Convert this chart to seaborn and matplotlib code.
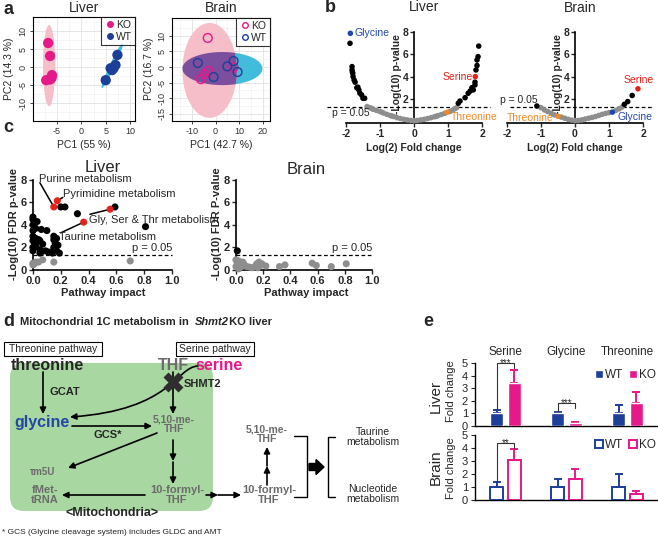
import numpy as np
import pandas as pd
import matplotlib
matplotlib.use("Agg")
import matplotlib.pyplot as plt
import seaborn as sns
from matplotlib.lines import Line2D
from matplotlib.patches import Polygon, FancyBboxPatch, Rectangle, FancyArrowPatch, FancyArrow, Patch
from matplotlib.path import Path
from matplotlib.ticker import MultipleLocator, FormatStrFormatter

sns.set_style("white")
plt.rcParams["font.family"] = ["Liberation Sans", "DejaVu Sans"]
plt.rcParams["axes.unicode_minus"] = False

W, H = 658, 538
KO_PINK = "#E6198A"
WT_BLUE = "#1E3F99"
GREY = "#8E8E8E"
SER_RED = "#E2231A"
GLY_BLUE = "#2347A6"
THR_ORANGE = "#F08A24"
TXT_GREY = "#6B6B6B"

# ---- a: PCA scores ----
liver_ko_pc1 = [-6.8, -6.4, -6.0, -6.1, -7.2, -6.4]
liver_ko_pc2 = [6.7, 3.1, -2.2, -3.0, -3.6, -3.4]
liver_wt_pc1 = [5.0, 6.0, 6.6, 7.0, 7.4, 6.3]
liver_wt_pc2 = [-3.6, -0.3, -0.3, 0.6, 3.4, -0.8]
brain_ko_pc1 = [-3.3, -6.2, -4.6, -3.0, 7.6]
brain_ko_pc2 = [9.3, -3.9, -2.3, -1.3, -0.1]
brain_wt_pc1 = [-7.5, -0.8, 5.0, 7.6, 9.3]
brain_wt_pc2 = [1.3, -3.2, 0.2, 1.9, -1.6]

# ---- b: volcano ----
liver_sig_fc = [-1.88, -1.82, -1.82, -1.81, -1.80, -1.79, -1.76, -1.73, -1.68, -1.65, -1.62, -1.59, -1.54, -1.50, -1.45,
                1.30, 1.35, 1.50, 1.59, 1.65, 1.70, 1.74, 1.79, 1.79, 1.82, 1.85, 1.85, 1.88, 1.90]
liver_sig_lp = [7.0, 4.9, 4.6, 4.4, 4.3, 4.0, 3.7, 3.5, 3.0, 3.05, 2.8, 2.5, 2.35, 2.05, 2.05,
                1.6, 1.8, 2.1, 2.5, 2.7, 3.0, 2.8, 3.25, 3.5, 4.6, 5.0, 5.5, 5.8, 6.75]
liver_ns_fc = [-1.38, -1.3, -1.25, -1.2, -1.1, -1.0, -0.95, -0.9, -0.8, -0.7, -0.65, -0.6, -0.5, -0.4, -0.3, -0.2, -0.1,
               0.0, 0.1, 0.2, 0.3, 0.4, 0.5, 0.6, 0.65, 0.7, 0.8, 0.9, 1.05, 1.12, 1.2, 1.25]
liver_ns_lp = [1.3, 1.2, 1.15, 1.05, 0.95, 0.85, 0.8, 0.72, 0.6, 0.5, 0.45, 0.4, 0.3, 0.22, 0.15, 0.1, 0.05,
               0.02, 0.05, 0.1, 0.15, 0.22, 0.3, 0.38, 0.42, 0.48, 0.58, 0.68, 0.85, 0.95, 1.1, 1.2]
liver_hits = ["Glycine", "Serine", "Threonine"]
liver_hit_fc = [-1.87, 1.80, 0.97]
liver_hit_lp = [7.9, 4.0, 0.78]

brain_sig_fc = [-1.12, 1.45, 1.55, 1.68]
brain_sig_lp = [1.35, 1.5, 1.75, 2.3]
brain_ns_fc = [-1.0, -0.9, -0.8, -0.7, -0.6, -0.4, -0.3, -0.2, -0.1, 0.0, 0.1, 0.2, 0.3, 0.4, 0.5, 0.6,
               0.7, 0.8, 0.9, 1.0, 1.2, 1.3, 1.38]
brain_ns_lp = [1.2, 1.0, 0.85, 0.7, 0.55, 0.35, 0.25, 0.15, 0.08, 0.03, 0.05, 0.1, 0.18, 0.25, 0.32, 0.4,
               0.5, 0.6, 0.68, 0.75, 0.95, 1.1, 1.25]
brain_hits = ["Threonine", "Glycine", "Serine"]
brain_hit_fc = [-0.5, 1.1, 1.85]
brain_hit_lp = [0.42, 0.8, 2.9]

# ---- c: pathway impact ----
liver_path_sig_x = [0.0, 0.0, 0.01, 0.03, 0.0, 0.02, 0.0, 0.06, 0.10, 0.0, 0.02, 0.04, 0.0, 0.01, 0.03, 0.05, 0.07,
                    0.0, 0.02, 0.0, 0.05, 0.06, 0.09, 0.05, 0.11, 0.15, 0.15, 0.17, 0.16, 0.15, 0.18, 0.15, 0.17,
                    0.14, 0.19, 0.20, 0.23, 0.32, 0.59, 0.81]
liver_path_sig_y = [4.7, 4.5, 4.3, 4.3, 4.0, 3.7, 3.5, 3.6, 3.5, 3.0, 2.8, 2.7, 2.6, 2.4, 2.5, 2.6, 2.3,
                    2.0, 2.1, 1.7, 1.8, 1.6, 1.7, 1.5, 1.6, 3.0, 2.7, 2.8, 2.4, 2.0, 2.2, 1.8, 1.7,
                    1.5, 1.5, 5.6, 5.6, 5.0, 5.6, 3.85]
liver_path_ns_x = [0.0, 0.01, 0.02, 0.0, 0.04, 0.07, 0.15, 0.70]
liver_path_ns_y = [0.45, 0.55, 0.7, 0.6, 0.7, 0.9, 0.7, 0.8]
path_names = ["Purine metabolism", "Pyrimidine metabolism", "Gly, Ser & Thr metabolism", "Taurine metabolism"]
path_hit_x = [0.15, 0.175, 0.555, 0.365]
path_hit_y = [5.6, 6.15, 5.4, 4.25]

brain_path_ns_x = [0.0, 0.01, 0.02, 0.0, 0.03, 0.05, 0.04, 0.06, 0.08, 0.10, 0.15, 0.15, 0.16, 0.17, 0.18,
                   0.16, 0.19, 0.22, 0.32, 0.36, 0.56, 0.59, 0.70, 0.81, 0.02, 0.12]
brain_path_ns_y = [0.9, 0.6, 0.8, 0.3, 0.4, 0.7, 0.3, 0.5, 0.3, 0.25, 0.3, 0.5, 0.6, 0.7, 0.4,
                   0.2, 0.55, 0.35, 0.3, 0.45, 0.6, 0.4, 0.3, 0.55, 0.1, 0.2]
brain_path_sig_x = [0.01]
brain_path_sig_y = [1.7]

# ---- e: fold change ----
genes = ["Serine", "Glycine", "Threonine"]
liver_wt = [1.0, 1.0, 1.0]
liver_wt_err = [0.25, 0.1, 0.7]
liver_ko = [3.45, 0.25, 1.85]
liver_ko_err = [1.0, 0.05, 0.85]
brain_wt = [1.0, 1.0, 1.0]
brain_wt_err = [0.4, 0.6, 1.0]
brain_ko = [3.05, 1.65, 0.5]
brain_ko_err = [0.85, 0.7, 0.22]

fig = plt.figure(figsize=(W / 100, H / 100), dpi=100)


def px_axes(l, t, r, b):
    return fig.add_axes([l / W, 1 - b / H, (r - l) / W, (b - t) / H])


def ellipse(ax, c, a, b, color, z=1.5, clip=None):
    t = np.linspace(0, 2 * np.pi, 120)
    pts = np.column_stack([c[0] + a[0] * np.cos(t) + b[0] * np.sin(t),
                           c[1] + a[1] * np.cos(t) + b[1] * np.sin(t)])
    poly = Polygon(pts, closed=True, facecolor=color, edgecolor="none", zorder=z)
    ax.add_patch(poly)
    if clip is not None:
        poly.set_clip_path(clip)
    return poly


def pca_style(ax, xl, yl, xt, yt):
    ax.set_xlim(*xl)
    ax.set_ylim(*yl)
    ax.set_xticks(xt)
    ax.set_yticks(yt)
    ax.xaxis.set_minor_locator(MultipleLocator((xt[1] - xt[0]) / 2))
    ax.yaxis.set_minor_locator(MultipleLocator(2.5))
    ax.grid(True, which="major", color="#E6E6E6", lw=0.7)
    ax.grid(True, which="minor", color="#F0F0F0", lw=0.4)
    ax.set_axisbelow(True)
    for s in ax.spines.values():
        s.set_color("black")
        s.set_linewidth(0.8)
        s.set_visible(True)
    ax.tick_params(axis="both", labelsize=6.5, length=2.5, width=0.6, pad=1.5, labelcolor="#333333",
                   direction="out", left=True, bottom=True)
    ax.tick_params(axis="y", labelrotation=90)
    for lab in ax.get_yticklabels():
        lab.set_va("center")
    ax.set_xlabel("")
    ax.set_ylabel("")


# ===== a: Liver PCA =====
ax = px_axes(33, 17, 135, 121)
ellipse(ax, (-6.6, 0.45), (1.25, 0), (0, 11.25), "#F6BEC9")
ellipse(ax, (6.35, 0.45), (2.15, 6.25), (0.47, -0.29), "#41BCDA")
df = pd.DataFrame({"PC1": liver_ko_pc1 + liver_wt_pc1, "PC2": liver_ko_pc2 + liver_wt_pc2,
                   "group": ["KO"] * len(liver_ko_pc1) + ["WT"] * len(liver_wt_pc1)})
sns.scatterplot(data=df, x="PC1", y="PC2", hue="group", palette={"KO": KO_PINK, "WT": WT_BLUE},
                s=55, edgecolor="none", legend=False, ax=ax, zorder=3)
pca_style(ax, (-9.9, 11), (-14.9, 13.9), [-5, 0, 5, 10], [-10, -5, 0, 5, 10])
h = [Line2D([], [], marker="o", ls="", color=KO_PINK, ms=4, label="KO"),
     Line2D([], [], marker="o", ls="", color=WT_BLUE, ms=4, label="WT")]
leg = ax.legend(handles=h, loc="upper right", fontsize=7.5, frameon=True, fancybox=False, borderpad=0.3,
                handletextpad=0.1, labelspacing=0.15, handlelength=1.0, borderaxespad=0.0)
leg.get_frame().set_edgecolor("black")
leg.get_frame().set_linewidth(0.8)

# ===== a: Brain PCA =====
ax = px_axes(172, 18, 270, 121)
ellipse(ax, (2.9, -0.5), (16.9, 0), (0, 5.3), "#41BCDA")
pink = ellipse(ax, (-2.5, -1.1), (11.5, 0), (0, 15.2), "#F6BEC9", z=1.6)
ellipse(ax, (2.9, -0.5), (16.9, 0), (0, 5.3), "#7B4E9E", z=1.7, clip=pink)
df = pd.DataFrame({"PC1": brain_ko_pc1 + brain_wt_pc1, "PC2": brain_ko_pc2 + brain_wt_pc2,
                   "group": ["KO"] * len(brain_ko_pc1) + ["WT"] * len(brain_wt_pc1)})
sns.scatterplot(data=df, x="PC1", y="PC2", hue="group", palette={"KO": KO_PINK, "WT": WT_BLUE},
                s=40, legend=False, ax=ax, zorder=3)
coll = ax.collections[-1]
coll.set_edgecolors(coll.get_facecolors())
coll.set_facecolors("none")
coll.set_linewidths(1.0)
pca_style(ax, (-18.4, 23), (-17.3, 15.7), [-10, 0, 10, 20], [-15, -10, -5, 0, 5, 10])
ax.xaxis.set_minor_locator(MultipleLocator(5))
h = [Line2D([], [], marker="o", ls="", mfc="none", mec=KO_PINK, ms=4, label="KO"),
     Line2D([], [], marker="o", ls="", mfc="none", mec=WT_BLUE, ms=4, label="WT")]
leg = ax.legend(handles=h, loc="upper right", fontsize=7.5, frameon=True, fancybox=False, borderpad=0.3,
                handletextpad=0.1, labelspacing=0.15, handlelength=1.0, borderaxespad=0.0)
leg.get_frame().set_edgecolor("black")
leg.get_frame().set_linewidth(0.8)


# ===== b: volcano plots =====
def volcano(ax, sig_fc, sig_lp, ns_fc, ns_lp, hits, hit_fc, hit_lp, xl, dash):
    df = pd.DataFrame({"fc": ns_fc + sig_fc + hit_fc, "lp": ns_lp + sig_lp + hit_lp,
                       "kind": ["ns"] * len(ns_fc) + ["sig"] * len(sig_fc) + hits})
    pal = {"ns": GREY, "sig": "black", "Glycine": GLY_BLUE, "Serine": SER_RED, "Threonine": THR_ORANGE}
    sns.scatterplot(data=df, x="fc", y="lp", hue="kind", palette=pal, s=16, edgecolor="none",
                    legend=False, ax=ax, zorder=3, clip_on=False)
    ax.hlines(1.3, dash[0], dash[1], colors="black", linestyles=(0, (3, 2)), lw=0.9, zorder=2)
    ax.set_xlim(*xl)
    ax.set_ylim(-0.18, 8.56)
    ax.set_xticks([-2, -1, 0, 1, 2])
    ax.set_yticks([2, 4, 6, 8])
    ax.spines["top"].set_visible(False)
    ax.spines["right"].set_visible(False)
    ax.spines["left"].set_position(("data", 0))
    ax.spines["left"].set_bounds(0, 8)
    ax.spines["bottom"].set_bounds(-2, 2)
    for s in ("left", "bottom"):
        ax.spines[s].set_linewidth(1.2)
        ax.spines[s].set_color("black")
    ax.tick_params(axis="both", labelsize=7.5, length=3, width=1.0, pad=1, direction="out",
                   left=True, bottom=True)
    for lab in ax.get_xticklabels() + ax.get_yticklabels():
        lab.set_fontweight("bold")
    ax.set_xlabel("")
    ax.set_ylabel("-Log(10) p-value", fontsize=7.5, fontweight="bold", labelpad=0.5)
    ax.patch.set_alpha(0)


ax_bl = px_axes(318, 26, 492, 123)
volcano(ax_bl, liver_sig_fc, liver_sig_lp, liver_ns_fc, liver_ns_lp, liver_hits, liver_hit_fc, liver_hit_lp,
        (-2.82, 2.29), (-2.56, 2.24))
ax_bl.text(-1.76, 7.9, "Glycine", color=GLY_BLUE, fontsize=7.5, ha="left", va="center")
ax_bl.text(1.72, 4.0, "Serine", color=SER_RED, fontsize=7.5, ha="right", va="center")
ax_bl.text(1.08, 0.32, "Threonine", color=THR_ORANGE, fontsize=7.5, ha="left", va="center", clip_on=False)
ax_bl.text(-2.4, 0.72, "p = 0.05", fontsize=7.5, ha="left", va="center")

ax_bb = px_axes(480, 26, 656, 123)
volcano(ax_bb, brain_sig_fc, brain_sig_lp, brain_ns_fc, brain_ns_lp, brain_hits, brain_hit_fc, brain_hit_lp,
        (-2.79, 2.38), (-1.9, 2.3))
ax_bb.text(-0.62, 0.3, "Threonine", color=THR_ORANGE, fontsize=7.5, ha="right", va="center")
ax_bb.text(1.24, 0.35, "Glycine", color=GLY_BLUE, fontsize=7.5, ha="left", va="center")
ax_bb.text(1.87, 3.7, "Serine", color=SER_RED, fontsize=7.5, ha="center", va="center")
ax_bb.text(-2.2, 1.9, "p = 0.05", fontsize=7.5, ha="left", va="center")


# ===== c: pathway impact =====
def pathway(ax, sig_x, sig_y, ns_x, ns_y, hit_x, hit_y, xl, ylab):
    df = pd.DataFrame({"impact": ns_x + sig_x + hit_x, "fdr": ns_y + sig_y + hit_y,
                       "kind": ["ns"] * len(ns_x) + ["sig"] * len(sig_x) + ["hit"] * len(hit_x)})
    pal = {"ns": GREY, "sig": "black", "hit": SER_RED}
    ax.hlines(1.3, 0.0, 1.0, colors="black", linestyles=(0, (3, 2)), lw=0.9, zorder=2)
    sns.scatterplot(data=df, x="impact", y="fdr", hue="kind", palette=pal, s=26, edgecolor="none",
                    legend=False, ax=ax, zorder=3, clip_on=False)
    ax.set_xlim(*xl)
    ax.set_ylim(-0.27, 8.53)
    ax.set_xticks([0, 0.2, 0.4, 0.6, 0.8, 1.0])
    ax.xaxis.set_major_formatter(FormatStrFormatter("%.1f"))
    ax.set_yticks([0, 2, 4, 6, 8])
    ax.spines["top"].set_visible(False)
    ax.spines["right"].set_visible(False)
    ax.spines["left"].set_position(("data", 0))
    ax.spines["left"].set_bounds(0, 8)
    ax.spines["bottom"].set_position(("data", 0))
    ax.spines["bottom"].set_bounds(0, 1.0)
    for s in ("left", "bottom"):
        ax.spines[s].set_linewidth(1.2)
        ax.spines[s].set_color("black")
    ax.tick_params(axis="both", labelsize=8, length=3, width=1.0, pad=1.5, direction="out",
                   left=True, bottom=True)
    for lab in ax.get_xticklabels() + ax.get_yticklabels():
        lab.set_fontweight("bold")
    ax.set_xlabel("Pathway impact", fontsize=8, fontweight="bold", labelpad=1)
    ax.set_ylabel(ylab, fontsize=8, fontweight="bold", labelpad=1)
    ax.text(1.0, 1.55, "p = 0.05", fontsize=8, ha="right", va="bottom")
    ax.patch.set_alpha(0)


ax_cl = px_axes(26, 174, 180, 273)
pathway(ax_cl, liver_path_sig_x, liver_path_sig_y, liver_path_ns_x, liver_path_ns_y,
        path_hit_x, path_hit_y, (-0.05, 1.058), "-Log(10) FDR p-value")
lab_pos = [(0.04, 8.05), (0.215, 6.75), (0.405, 4.45), (0.185, 2.95)]
line_from = [(0.05, 7.75), (0.215, 6.45), (0.41, 4.95), (0.2, 3.3)]
for name, (tx, ty), (lx, ly), hx, hy in zip(path_names, lab_pos, line_from, path_hit_x, path_hit_y):
    ax_cl.text(tx, ty, name, fontsize=8, ha="left", va="center", zorder=5)
    ax_cl.plot([lx, hx], [ly, hy], color="black", lw=1.1, zorder=2)

ax_cb = px_axes(229, 174, 383, 273)
pathway(ax_cb, brain_path_sig_x, brain_path_sig_y, brain_path_ns_x, brain_path_ns_y,
        [], [], (-0.051, 1.08), "-Log(10) FDR P-value")


# ===== e: fold change bars =====
def foldbars(ax, wt, wt_err, ko, ko_err, filled):
    df = pd.DataFrame({"gene": genes * 2, "fc": wt + ko, "grp": ["WT"] * 3 + ["KO"] * 3})
    pal = {"WT": WT_BLUE, "KO": KO_PINK}
    if filled:
        sns.barplot(data=df, x="gene", y="fc", hue="grp", palette=pal, errorbar=None, width=0.56, gap=0.24,
                    legend=False, ax=ax, saturation=1, zorder=3)
    else:
        sns.barplot(data=df, x="gene", y="fc", hue="grp", palette=pal, errorbar=None, width=0.56, gap=0.24,
                    legend=False, ax=ax, saturation=1, fill=False, linewidth=1.4, zorder=3)
    bars = sorted(ax.patches, key=lambda p: p.get_x())
    errs = [v for pair in zip(wt_err, ko_err) for v in pair]
    cols = [WT_BLUE, KO_PINK] * 3
    for p, e, c in zip(bars, errs, cols):
        xc = p.get_x() + p.get_width() / 2
        ax.errorbar(xc, p.get_height(), yerr=[[0], [e]], fmt="none", ecolor=c, elinewidth=1.4,
                    capsize=3, capthick=1.4, zorder=2)
    ax.set_xlim(-0.5, 2.5)
    ax.set_ylim(0, 5)
    ax.set_yticks([0, 1, 2, 3, 4, 5])
    ax.set_xticks([])
    ax.spines["top"].set_visible(False)
    ax.spines["right"].set_visible(False)
    for s in ("left", "bottom"):
        ax.spines[s].set_linewidth(1.0)
        ax.spines[s].set_color("black")
    ax.tick_params(axis="y", labelsize=8, length=3, width=0.8, pad=2, direction="out", left=True)
    ax.set_xlabel("")
    ax.set_ylabel("")
    ax.patch.set_alpha(0)


def sig_bracket(ax, x0, x1, y_left, y_top, y_right, stars):
    ax.plot([x0, x0, x1, x1], [y_left, y_top, y_top, y_right], color="#333333", lw=0.8, clip_on=False)
    ax.text((x0 + x1) / 2, y_top - 0.22, stars, fontsize=7, ha="center", va="baseline", clip_on=False)


ax_el = px_axes(475, 363, 658, 426)
foldbars(ax_el, liver_wt, liver_wt_err, liver_ko, liver_ko_err, True)
sig_bracket(ax_el, -0.14, 0.14, 1.32, 5.0, 4.6, "***")
sig_bracket(ax_el, 0.86, 1.14, 1.17, 1.8, 1.4, "***")
hl = [Patch(facecolor=WT_BLUE, label="WT"), Patch(facecolor=KO_PINK, label="KO")]
ax_el.legend(handles=hl, loc="center", bbox_to_anchor=(0.82, 0.81), ncol=2, frameon=False, fontsize=8.5,
             handlelength=0.7, handleheight=0.7, handletextpad=0.15, columnspacing=0.5, borderpad=0)

ax_eb = px_axes(475, 435, 658, 500)
foldbars(ax_eb, brain_wt, brain_wt_err, brain_ko, brain_ko_err, False)
sig_bracket(ax_eb, -0.14, 0.14, 1.5, 4.4, 4.0, "**")
hb = [Patch(facecolor="white", edgecolor=WT_BLUE, lw=1.4, label="WT"),
      Patch(facecolor="white", edgecolor=KO_PINK, lw=1.4, label="KO")]
ax_eb.legend(handles=hb, loc="center", bbox_to_anchor=(0.82, 0.84), ncol=2, frameon=False, fontsize=8.5,
             handlelength=0.7, handleheight=0.7, handletextpad=0.15, columnspacing=0.5, borderpad=0)

# ===== overlay: titles, labels and pathway diagram =====
ov = fig.add_axes([0, 0, 1, 1])
ov.set_xlim(0, W)
ov.set_ylim(H, 0)
ov.axis("off")


def T(x, y, s, **kw):
    kw.setdefault("ha", "center")
    kw.setdefault("va", "center")
    ov.text(x, y, s, **kw)


# panel letters
for x, y, s in [(3, 9, "a"), (325, 8, "b"), (3, 128, "c"), (3, 321, "d"), (423, 321, "e")]:
    T(x, y, s, fontsize=13, fontweight="bold", ha="left")

# a titles / labels
T(84, 8, "Liver", fontsize=10)
T(221, 8, "Brain", fontsize=10)
T(84, 145, "PC1 (55 %)", fontsize=7.5)
T(221, 145, "PC1 (42.7 %)", fontsize=7.5)
T(9, 69, "PC2 (14.3 %)", fontsize=7.5, rotation=90)
T(149, 69, "PC2 (16.7 %)", fontsize=7.5, rotation=90)

# b titles / labels
T(424, 7, "Liver", fontsize=10)
T(580, 8, "Brain", fontsize=10)
T(414, 148, "Log(2) Fold change", fontsize=7.5, fontweight="bold")
T(575, 148, "Log(2) Fold change", fontsize=7.5, fontweight="bold")

# c titles
T(103, 167, "Liver", fontsize=12)
T(306, 170, "Brain", fontsize=12)

# e labels
for x, g in zip([505, 566, 627], genes):
    T(x, 352, g, fontsize=8.5)
T(436, 396, "Liver", fontsize=11, rotation=90)
T(451, 391, "Fold change", fontsize=8, rotation=90)
T(436, 467, "Brain", fontsize=11, rotation=90)
T(451, 468, "Fold change", fontsize=8, rotation=90)

# d diagram
ov.add_patch(FancyBboxPatch((10, 363), 203, 148, boxstyle="round,pad=0,rounding_size=14",
                            facecolor="#A9D7A1", edgecolor="none", zorder=0))
T(20, 322, "Mitochondrial 1C metabolism in ", fontsize=8, fontweight="bold", ha="left")
T(195, 322, "Shmt2", fontsize=8, fontweight="bold", fontstyle="italic", ha="left")
T(226, 322, " KO liver", fontsize=8, fontweight="bold", ha="left")
for (x0, x1), s in [((4, 102), "Threonine pathway"), ((176, 254), "Serine pathway")]:
    ov.add_patch(Rectangle((x0, 342), x1 - x0, 14, facecolor="white", edgecolor="black", lw=0.8))
    T((x0 + x1) / 2, 349.5, s, fontsize=7.5)

T(47, 365, "threonine", fontsize=11.5, fontweight="bold")
T(173, 365, "THF", fontsize=11.5, fontweight="bold", color=TXT_GREY)
T(219, 365, "serine", fontsize=11.5, fontweight="bold", color=KO_PINK)
T(184, 384, "SHMT2", fontsize=8, fontweight="bold", ha="left")
T(50, 392, "GCAT", fontsize=8, fontweight="bold", ha="left")
T(42, 423, "glycine", fontsize=11.5, fontweight="bold", color=GLY_BLUE)
T(108, 435, "GCS*", fontsize=8, fontweight="bold")
T(174, 424, "5,10-me-\nTHF", fontsize=7.5, fontweight="bold", color=TXT_GREY, linespacing=0.95)
T(43, 472, "τm5U", fontsize=7, fontweight="bold", color=TXT_GREY)
T(45, 495, "fMet-\ntRNA", fontsize=8, fontweight="bold", color=TXT_GREY, linespacing=0.95)
T(177, 495, "10-formyl-\nTHF", fontsize=8, fontweight="bold", color=TXT_GREY, linespacing=0.95)
T(112, 513, "<Mitochondria>", fontsize=9, fontweight="bold")
T(267, 434, "5,10-me-\nTHF", fontsize=7.5, fontweight="bold", color=TXT_GREY, linespacing=0.95)
T(269, 495, "10-formyl-\nTHF", fontsize=8, fontweight="bold", color=TXT_GREY, linespacing=0.95)
T(373, 437, "Taurine\nmetabolism", fontsize=7.5, linespacing=1.0)
T(373, 494, "Nucleotide\nmetabolism", fontsize=7.5, linespacing=1.0)
T(2, 532, "* GCS (Glycine cleavage system) includes GLDC and AMT", fontsize=6, ha="left")


def arr(x0, y0, x1, y1):
    ov.annotate("", xy=(x1, y1), xytext=(x0, y0),
                arrowprops=dict(arrowstyle="-|>", color="black", lw=1.2, mutation_scale=9,
                                shrinkA=0, shrinkB=0))


arr(43, 372, 43, 414)
arr(173, 372, 173, 414)
arr(72, 426, 152, 426)
arr(157, 433, 68, 468)
arr(173, 440, 173, 461)
arr(173, 462, 173, 484)
arr(145, 495, 62, 495)
arr(206, 495, 218, 495)
arr(218, 495, 241, 495)
arr(267, 485, 267, 466)
arr(267, 466, 267, 447)
curve = Path([(198, 366), (176, 367), (172, 410), (70, 417)],
             [Path.MOVETO, Path.CURVE4, Path.CURVE4, Path.CURVE4])
ov.add_patch(FancyArrowPatch(path=curve, arrowstyle="-|>", color="black", lw=1.2, mutation_scale=9))
ov.plot(173, 382, marker="X", ms=15, color="#2E2E2E", mec="none", zorder=5)
ov.plot([294, 307, 307, 294], [436, 436, 497, 497], color="black", lw=1.0)
ov.plot([335, 328, 328, 335], [437, 437, 497, 497], color="black", lw=1.0)
ov.add_patch(FancyArrow(309, 467, 7, 0, width=7, head_width=15, head_length=8, color="black"))

fig.savefig("out.png", dpi=100)
